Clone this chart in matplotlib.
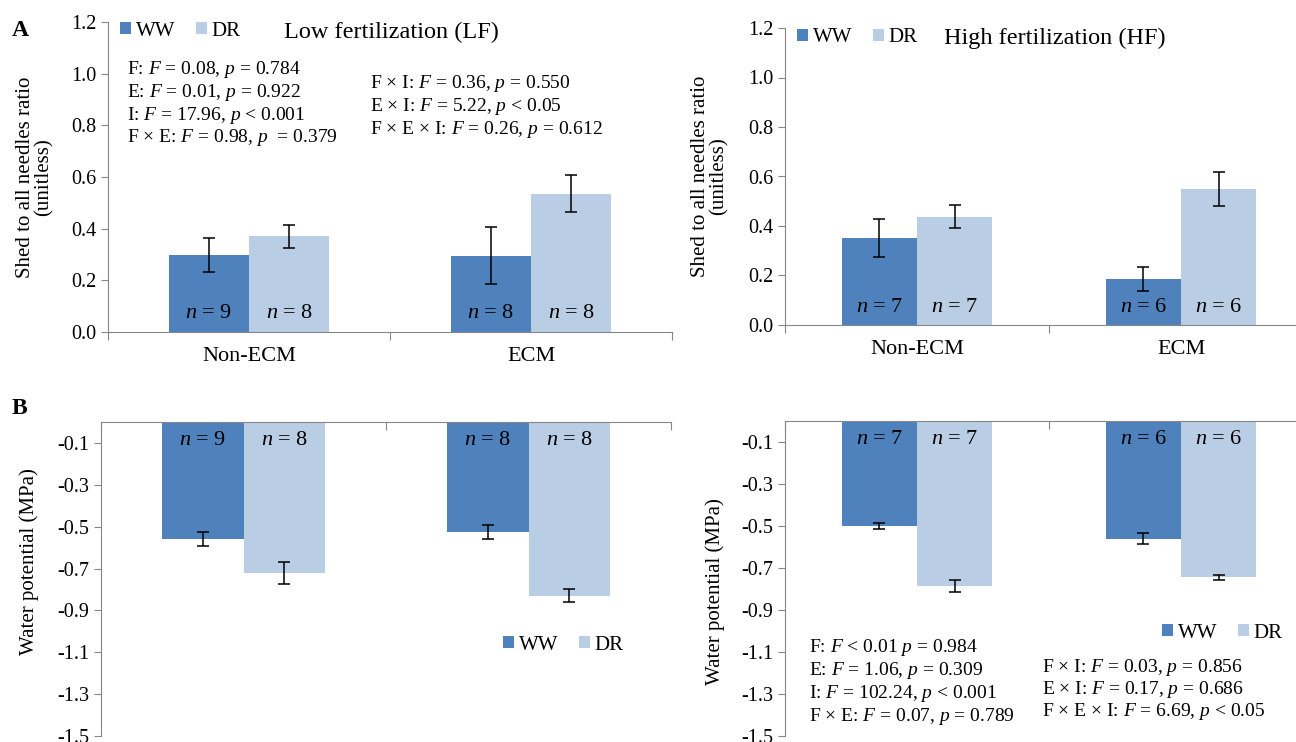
import numpy as np
import matplotlib
matplotlib.use("Agg")
import matplotlib.pyplot as plt

plt.rcParams['font.family'] = ['Liberation Serif', 'DejaVu Serif']
plt.rcParams['mathtext.fontset'] = 'custom'
plt.rcParams['mathtext.rm'] = 'Liberation Serif'
plt.rcParams['mathtext.it'] = 'Liberation Serif:italic'

categories = ['Non-ECM', 'ECM']
groups = ['WW', 'DR']

# shed to all needles ratio (mean, SE)
shed_lf_ww = [0.298, 0.295]
shed_lf_ww_err = [0.065, 0.111]
shed_lf_dr = [0.370, 0.536]
shed_lf_dr_err = [0.043, 0.070]
shed_hf_ww = [0.350, 0.186]
shed_hf_ww_err = [0.077, 0.048]
shed_hf_dr = [0.438, 0.550]
shed_hf_dr_err = [0.048, 0.068]

# water potential (MPa)
wp_lf_ww = [-0.560, -0.527]
wp_lf_ww_err = [0.033, 0.033]
wp_lf_dr = [-0.721, -0.830]
wp_lf_dr_err = [0.051, 0.031]
wp_hf_ww = [-0.502, -0.560]
wp_hf_ww_err = [0.014, 0.027]
wp_hf_dr = [-0.787, -0.745]
wp_hf_dr_err = [0.029, 0.013]

n_lf_ww = [9, 8]
n_lf_dr = [8, 8]
n_hf_ww = [7, 6]
n_hf_dr = [7, 6]

stats_lf_a = ['F: $F$ = 0.08, $p$ = 0.784',
              'E: $F$ = 0.01, $p$ = 0.922',
              'I: $F$ = 17.96, $p$ < 0.001',
              'F \u00d7 E: $F$ = 0.98, $p$  = 0.379']
stats_lf_b = ['F \u00d7 I: $F$ = 0.36, $p$ = 0.550',
              'E \u00d7 I: $F$ = 5.22, $p$ < 0.05',
              'F \u00d7 E \u00d7 I: $F$ = 0.26, $p$ = 0.612']
stats_hf_a = ['F: $F$ < 0.01 $p$ = 0.984',
              'E: $F$ = 1.06, $p$ = 0.309',
              'I: $F$ = 102.24, $p$ < 0.001',
              'F \u00d7 E: $F$ = 0.07, $p$ = 0.789']
stats_hf_b = ['F \u00d7 I: $F$ = 0.03, $p$ = 0.856',
              'E \u00d7 I: $F$ = 0.17, $p$ = 0.686',
              'F \u00d7 E \u00d7 I: $F$ = 6.69, $p$ < 0.05']

C_WW = '#4f81bd'
C_DR = '#b9cde5'
GRAY = '#868686'
W = 0.285
FS = 14.5

W_PX, H_PX = 1296, 742
fig = plt.figure(figsize=(W_PX / 100, H_PX / 100), dpi=100)


def px_axes(l, r, t, b):
    return fig.add_axes([l / W_PX, 1 - b / H_PX, (r - l) / W_PX, (b - t) / H_PX])


def fig_text(x, y, s, **kw):
    fig.text(x / W_PX, 1 - y / H_PX, s, **kw)


def draw_panel(ax, ww, ww_err, dr, dr_err, n_ww, n_dr, top):
    x = np.arange(len(categories))
    ax.bar(x - W / 2, ww, W, color=C_WW, label='WW', zorder=2)
    ax.bar(x + W / 2, dr, W, color=C_DR, label='DR', zorder=2)
    for off, vals, errs in [(-W / 2, ww, ww_err), (W / 2, dr, dr_err)]:
        ax.errorbar(x + off, vals, yerr=errs, fmt='none', ecolor='black',
                    elinewidth=1.1, capsize=4.5, capthick=1.1, zorder=3)
    for i in range(len(categories)):
        for off, n in [(-W / 2, n_ww[i]), (W / 2, n_dr[i])]:
            if top:
                ax.text(x[i] + off, 0.07, '$n$ = %d' % n, ha='center',
                        va='center', fontsize=16)
            else:
                ax.text(x[i] + off, -0.09, '$n$ = %d' % n, ha='center',
                        va='center', fontsize=16)
    ax.set_xlim(-0.5, len(categories) - 0.5)
    ax.set_xticks(np.arange(len(categories) + 1) - 0.5)
    ax.set_xticklabels([])
    ax.spines['right'].set_visible(False)
    for s in ax.spines.values():
        s.set_color(GRAY)
    ax.tick_params(axis='y', colors=GRAY, labelcolor='black', labelsize=FS,
                   length=5, direction='out')
    if top:
        ax.spines['top'].set_visible(False)
        ax.set_ylim(0, 1.2)
        ax.set_yticks(np.arange(0, 1.21, 0.2))
        ax.set_yticklabels(['%.1f' % v for v in np.arange(0, 1.21, 0.2)])
        ax.tick_params(axis='x', colors=GRAY, length=6, direction='out')
        ax.set_xticks(x, minor=True)
        ax.set_xticklabels(categories, minor=True, fontsize=16)
        ax.tick_params(axis='x', which='minor', length=0, pad=11,
                       labelcolor='black')
    else:
        ax.spines['bottom'].set_visible(False)
        ax.set_ylim(-1.5, 0)
        ticks = np.arange(-0.1, -1.51, -0.2)
        ax.set_yticks(ticks)
        ax.set_yticklabels(['%.1f' % v for v in ticks])
        ax.xaxis.tick_top()
        ax.tick_params(axis='x', colors=GRAY, length=6, direction='in')


def add_legend(ax, xpx, ypx):
    ax.legend(loc='center left', bbox_to_anchor=(xpx / W_PX, 1 - ypx / H_PX),
              bbox_transform=fig.transFigure, ncol=2, frameon=False,
              fontsize=15, borderpad=0, borderaxespad=0, handlelength=0.55,
              handleheight=0.55, handletextpad=0.2, columnspacing=1.0)


ax1 = px_axes(108, 672, 22, 332)
draw_panel(ax1, shed_lf_ww, shed_lf_ww_err, shed_lf_dr, shed_lf_dr_err,
           n_lf_ww, n_lf_dr, True)
ax1.set_ylabel('Shed to all needles ratio\n(unitless)', fontsize=15,
               linespacing=1.0)
ax1.yaxis.set_label_coords(-0.096, 0.5)
add_legend(ax1, 120, 31)

ax2 = px_axes(785, 1313, 28, 325)
draw_panel(ax2, shed_hf_ww, shed_hf_ww_err, shed_hf_dr, shed_hf_dr_err,
           n_hf_ww, n_hf_dr, True)
ax2.set_ylabel('Shed to all needles ratio\n(unitless)', fontsize=15,
               linespacing=1.0)
ax2.yaxis.set_label_coords(-0.106, 0.5)
add_legend(ax2, 797, 38)

ax3 = px_axes(101, 671, 422, 736)
draw_panel(ax3, wp_lf_ww, wp_lf_ww_err, wp_lf_dr, wp_lf_dr_err,
           n_lf_ww, n_lf_dr, False)
ax3.set_ylabel('Water potential (MPa)', fontsize=15)
ax3.yaxis.set_label_coords(-0.109, 0.554)
add_legend(ax3, 503, 645)

ax4 = px_axes(785, 1313, 421, 736)
draw_panel(ax4, wp_hf_ww, wp_hf_ww_err, wp_hf_dr, wp_hf_dr_err,
           n_hf_ww, n_hf_dr, False)
ax4.set_ylabel('Water potential (MPa)', fontsize=15)
ax4.yaxis.set_label_coords(-0.114, 0.46)
add_legend(ax4, 1162, 633)

# titles and panel letters
fig_text(284, 32, 'Low fertilization (LF)', fontsize=17.5, va='center')
fig_text(944, 38, 'High fertilization (HF)', fontsize=17.5, va='center')
fig_text(12, 30, 'A', fontsize=17, fontweight='bold', va='center')
fig_text(12, 408, 'B', fontsize=17, fontweight='bold', va='center')

# ANOVA statistics
for i, s in enumerate(stats_lf_a):
    fig_text(127, 70 + i * 22.6, s, fontsize=14, va='center')
for i, s in enumerate(stats_lf_b):
    fig_text(370, 84 + i * 22.6, s, fontsize=14, va='center')
for i, s in enumerate(stats_hf_a):
    fig_text(809, 647 + i * 23.3, s, fontsize=14, va='center')
for i, s in enumerate(stats_hf_b):
    fig_text(1042, 667 + i * 22.5, s, fontsize=14, va='center')

fig.savefig('out.png', dpi=100)
